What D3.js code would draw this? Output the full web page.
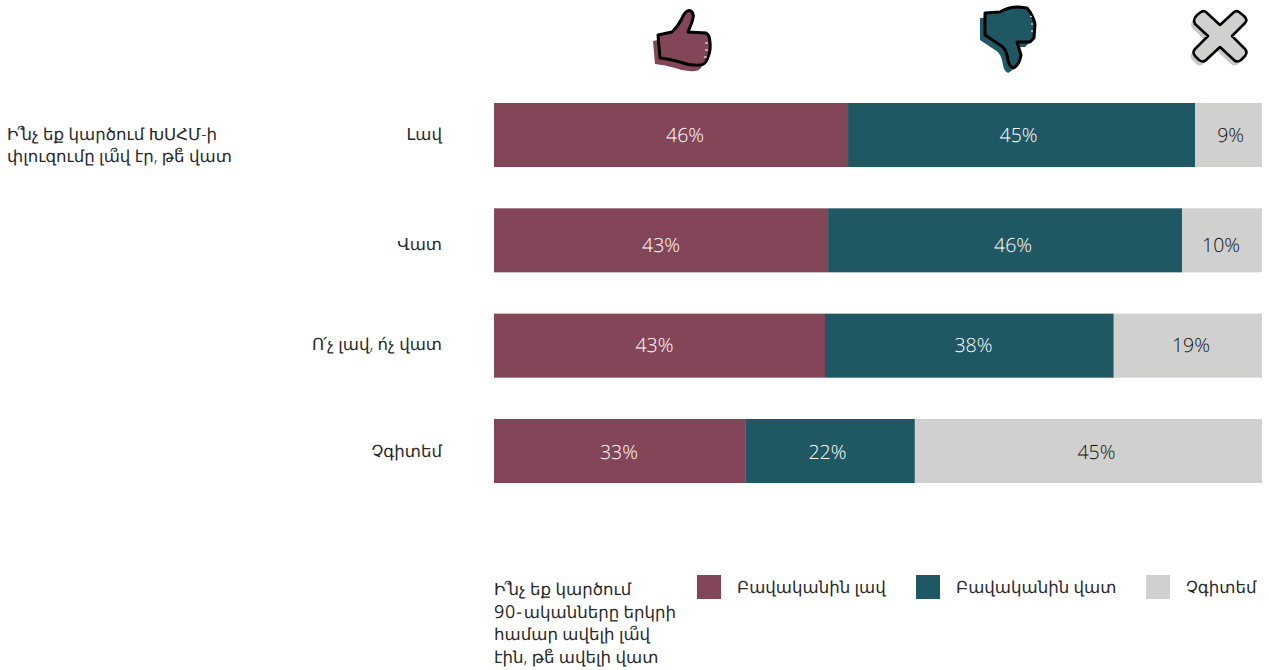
<!DOCTYPE html>
<html><head><meta charset="utf-8">
<script src="https://cdn.jsdelivr.net/npm/d3@7"></script>
<style>html,body{margin:0;padding:0;background:#fff}svg{display:block}text{font-family:"Noto Sans","Open Sans",sans-serif;font-weight:300;text-rendering:geometricPrecision}</style>
</head><body><div id="c"></div>
<script>
const categories=["Լավ","Վատ","Ո՛չ լավ, ո՛չ վատ","Չգիտեմ"];
const seriesNames=["Բավականին լավ","Բավականին վատ","Չգիտեմ"];
const good=[46.1,43.5,43.1,32.8];
const bad=[45.2,46.1,37.6,22.0];
const unknown=[8.7,10.4,19.3,45.2];
const goodLabels=["46%","43%","43%","33%"];
const badLabels=["45%","46%","38%","22%"];
const unknownLabels=["9%","10%","19%","45%"];
const labelShift=[[14,0,-5,-1],[-3,8,4,-3],[2,-1,3,8]];
const rowLabelY=[135,245,345,452];
const colors=["#834659","#1f5763","#d0d0ce"];
const question1=["Ի՞նչ եք կարծում ԽՍՀՄ-ի","փլուզումը լա՞վ էր, թե՞ վատ"];
const question2=["Ի՞նչ եք կարծում","90-ականները երկրի","համար ավելի լա՞վ","էին, թե՞ ավելի վատ"];

const svg=d3.select("#c").append("svg").attr("width",1269).attr("height",670);
const x=d3.scaleLinear().domain([0,100]).range([494,1262]);
const y=d3.scaleBand().domain(categories).range([103,483]).paddingInner(0.392);
const series=[good,bad,unknown], labels=[goodLabels,badLabels,unknownLabels];
const textFill=["#ffffff","#ffffff","#111"];
const AS=16.6, INK="#2a2a2a";
const accentW={};
function adv(ch){
  if(accentW[ch]===undefined){
    const t=svg.append("text").attr("font-size",AS).text(ch);
    accentW[ch]=t.node().getComputedTextLength(); t.remove();
  }
  return accentW[ch];
}
const isAccent=ch=>ch==="՞"||ch==="՛";
function armenian(sel,str){
  if(str.startsWith("90-")){
    sel.append("tspan").attr("font-size",18).style("font-family","'Open Sans'").style("font-weight",400).style("letter-spacing","0.8px").text("90-");
    sel.append("tspan").attr("dx",1).text(str.slice(3));
    return sel;
  }
  const chars=Array.from(str);
  const shift=i=>(chars[i-1]==="Ի"||chars[i-1]==="Ո")?-1:-(adv(chars[i])+2.5);
  const dx=chars.map((ch,i)=>{
    if(isAccent(ch)) return shift(i);
    if(i>0&&isAccent(chars[i-1])){
      const back=-(shift(i-1)+adv(chars[i-1]));
      return back+((chars[i-2]==="Ի"||chars[i-2]==="Ո")?3:0);
    }
    return 0;
  });
  return sel.attr("dx",dx.join(" ")).text(str);
}
categories.forEach((c,i)=>{
  let acc=0;
  series.forEach((s,k)=>{
    const x0=x(acc), x1=x(acc+s[i]);
    svg.append("rect").attr("x",x0).attr("y",y(c)).attr("width",x1-x0).attr("height",y.bandwidth()).attr("fill",colors[k]);
    svg.append("text").attr("x",(x0+x1)/2+labelShift[k][i]).attr("y",rowLabelY[i]).attr("dy","0.35em")
      .attr("text-anchor","middle").style("font-family","'Open Sans'").attr("font-size",19.5).attr("fill",textFill[k]).text(labels[k][i]);
    acc+=s[i];
  });
  armenian(svg.append("text").attr("x",442).attr("y",rowLabelY[i]+5).attr("text-anchor","end")
    .attr("font-size",AS).attr("fill",INK),c);
});
function lines(arr,px,py,lh){arr.forEach((t,i)=>armenian(svg.append("text").attr("x",px).attr("y",py+i*lh).attr("font-size",AS).attr("fill",INK),t));}
lines(question1,7,140,22);
lines(question2,494,595,22.5);
const legendX=[697,916,1146], labelX=[737,956,1186];
seriesNames.forEach((n,i)=>{
  svg.append("rect").attr("x",legendX[i]).attr("y",575).attr("width",24).attr("height",24).attr("fill",colors[i]);
  svg.append("text").attr("x",labelX[i]).attr("y",593).attr("font-size",AS).attr("fill",INK).text(n);
});
const up="M658,35 L672,32 Q680,24 683,16 Q687,9 691,11 Q695,14 692,22 L688,32 L706,33 Q710,35 710,43 Q711,50 708,57 Q706,65 700,65 Q690,66 680,62 Q670,59 660,58 Z";
const down="M985,13 L1000,12 Q1008,7 1018,7 L1027,8 Q1033,15 1035,24 L1034,38 L1030,42 L1017,42 L1021,55 Q1019,66 1013,68 Q1009,66 1008,60 Q1007,52 1003,47 L985,35 Z";
const cross="M1194,21 Q1194,18 1197,15 L1201,12 Q1204,10 1207,13 L1220,25 L1233,13 Q1236,10 1239,12 L1244,16 Q1248,20 1245,23 L1232,36 L1245,49 Q1248,52 1245,56 L1241,60 Q1237,63 1234,60 L1220,47 L1206,60 Q1203,63 1199,60 L1195,56 Q1192,52 1195,49 L1208,36 L1195,24 Z";
function icon(d,dx,dy,fill,shadow,sw){
  svg.append("path").attr("d",d).attr("transform",`translate(${dx},${dy})`).attr("fill",shadow);
  svg.append("path").attr("d",d).attr("fill",fill).attr("stroke","#000").attr("stroke-width",sw).attr("stroke-linejoin","round");
}
icon(up,-5,6,colors[0],colors[0],3);
icon(down,-5,5,colors[1],colors[1],3);
icon(cross,-3,4,colors[2],"#c8c8c6",2.6);
svg.append("path").attr("d","M705,43 h3 M705,50 h3 M704,57 h3").attr("stroke","#fff").attr("stroke-width",1).attr("fill","none");
svg.append("path").attr("d","M1030,16 l2,1 M1031,24 h2 M1031,31 h2").attr("stroke","#fff").attr("stroke-width",1).attr("fill","none");
</script></body></html>
